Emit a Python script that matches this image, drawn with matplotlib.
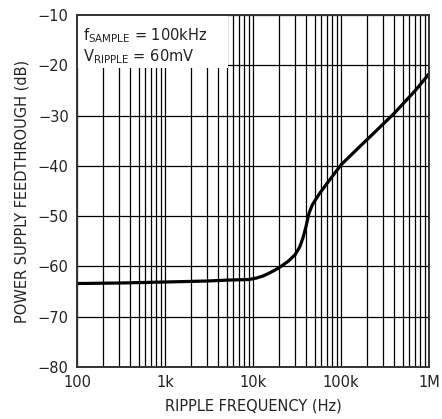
import numpy as np
import matplotlib.pyplot as plt
from matplotlib.patches import Rectangle
from matplotlib.ticker import FixedLocator, LogLocator, NullFormatter

# curve
freq = [100, 300, 1000, 3000, 5500, 9000, 11000, 13000, 15000, 17000, 20000,
        25000, 30000, 34000, 37000, 40000, 43000, 47000, 52000, 57000, 70000,
        100000, 150000, 214000, 400000, 700000, 1000000]
psf = [-63.4, -63.3, -63.1, -62.9, -62.7, -62.6, -62.3, -61.9, -61.4, -60.9,
       -60.2, -59.0, -57.7, -56.1, -54.3, -52.1, -49.6, -47.8, -46.6, -45.5,
       -43.4, -39.8, -36.8, -34.2, -29.6, -25.0, -21.7]

xticks = [100, 1000, 10000, 100000, 1000000]
xticklabels = ['100', '1k', '10k', '100k', '1M']
yticks = [-80, -70, -60, -50, -40, -30, -20, -10]

plt.rcParams['font.family'] = ['DejaVu Sans']
fig = plt.figure(figsize=(4.42, 4.19), dpi=100)
ax = fig.add_axes([0.1742, 0.1241, 0.7964, 0.8401])

ax.plot(freq, psf, color='black', lw=2.3, solid_capstyle='butt', zorder=3)

ax.set_xscale('log')
ax.set_xlim(100, 1e6)
ax.set_ylim(-80, -10)
ax.xaxis.set_major_locator(FixedLocator(xticks))
ax.set_xticklabels(xticklabels)
ax.xaxis.set_minor_locator(LogLocator(base=10, subs=np.arange(2, 10)))
ax.xaxis.set_minor_formatter(NullFormatter())
ax.set_yticks(yticks)
ax.set_yticklabels(['\u221280', '\u221270', '\u221260', '\u221250',
                    '\u221240', '\u221230', '\u221220', '\u221210'])
ax.tick_params(which='both', length=0, labelsize=10.5, colors='#222222', pad=6)

ax.grid(which='major', color='black', lw=0.9)
ax.grid(which='minor', axis='x', color='black', lw=0.9)
for s in ax.spines.values():
    s.set_color('#333333')
    s.set_linewidth(1.4)
    s.set_zorder(5)

ax.set_xlabel('RIPPLE FREQUENCY (Hz)', fontsize=10.5, color='#222222', labelpad=6)
ax.set_ylabel('POWER SUPPLY FEEDTHROUGH (dB)', fontsize=10.5, color='#222222', labelpad=6)

# white box behind the conditions text
ax.add_patch(Rectangle((0, 0.85), 0.43, 0.15, transform=ax.transAxes,
                       fc='white', ec='none', zorder=2.5))
ax.text(0.016, 0.968, 'f$_{\\mathrm{SAMPLE}}$ = 100kHz\nV$_{\\mathrm{RIPPLE}}$ = 60mV',
        transform=ax.transAxes, ha='left', va='top', fontsize=10.5,
        color='#222222', linespacing=1.15, zorder=4)

fig.savefig('out.png', dpi=100)
